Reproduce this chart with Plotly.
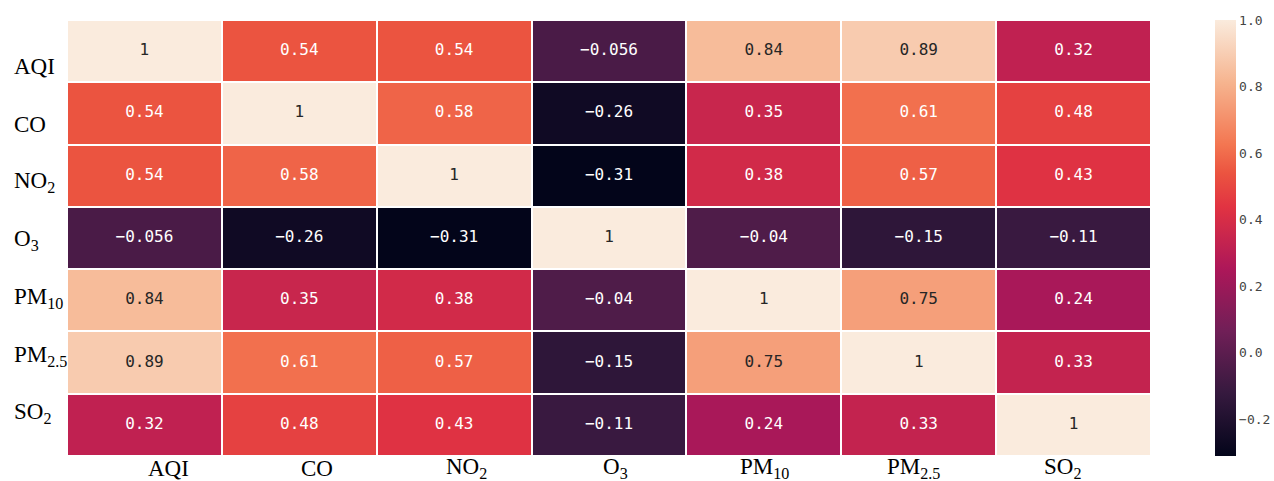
import numpy as np
import plotly.graph_objects as go

# Pollutant correlation matrix
labels = ["AQI", "CO", "NO<sub>2</sub>", "O<sub>3</sub>",
          "PM<sub>10</sub>", "PM<sub>2.5</sub>", "SO<sub>2</sub>"]
corr = [
    [1.0, 0.54, 0.54, -0.056, 0.84, 0.89, 0.32],
    [0.54, 1.0, 0.58, -0.26, 0.35, 0.61, 0.48],
    [0.54, 0.58, 1.0, -0.31, 0.38, 0.57, 0.43],
    [-0.056, -0.26, -0.31, 1.0, -0.04, -0.15, -0.11],
    [0.84, 0.35, 0.38, -0.04, 1.0, 0.75, 0.24],
    [0.89, 0.61, 0.57, -0.15, 0.75, 1.0, 0.33],
    [0.32, 0.48, 0.43, -0.11, 0.24, 0.33, 1.0],
]
cbar_vals = [-0.2, 0.0, 0.2, 0.4, 0.6, 0.8, 1.0]
cbar_text = ["\u22120.2", "0.0", "0.2", "0.4", "0.6", "0.8", "1.0"]

# "rocket"-style sequential palette
rocket = [
    [0.000, "#03051A"],
    [0.143, "#35193E"],
    [0.286, "#701F57"],
    [0.429, "#AD1759"],
    [0.571, "#E13342"],
    [0.649, "#EB5440"],
    [0.714, "#F37651"],
    [0.857, "#F6B48F"],
    [1.000, "#FAEBDD"],
]

z = np.array(corr)
n = len(labels)
zmin, zmax = float(z.min()), float(z.max())


def hex_rgb(h):
    h = h.lstrip("#")
    return np.array([int(h[i:i + 2], 16) for i in (0, 2, 4)], dtype=float) / 255.0


stops = np.array([s for s, _ in rocket])
cols = np.array([hex_rgb(c) for _, c in rocket])


def cell_rgb(v):
    t = (v - zmin) / (zmax - zmin)
    return np.array([np.interp(t, stops, cols[:, k]) for k in range(3)])


def luminance(rgb):
    lin = np.where(rgb <= 0.03928, rgb / 12.92, ((rgb + 0.055) / 1.055) ** 2.4)
    return float(lin.dot([0.2126, 0.7152, 0.0722]))


xs, ys, txt, tcol = [], [], [], []
for i in range(n):
    for j in range(n):
        v = corr[i][j]
        xs.append(j)
        ys.append(i)
        txt.append(format(v, ".2g").replace("-", "\u2212"))
        tcol.append("#262626" if luminance(cell_rgb(v)) > 0.408 else "#FFFFFF")

fig = go.Figure()
fig.add_trace(go.Heatmap(
    z=corr, x=list(range(n)), y=list(range(n)),
    colorscale=rocket, zmin=zmin, zmax=zmax,
    xgap=2, ygap=2, hoverinfo="skip",
    colorbar=dict(
        x=1.059, xanchor="left", xpad=0, ypad=0,
        y=0.5, yanchor="middle", len=1, lenmode="fraction",
        thickness=21, outlinewidth=0,
        tickvals=cbar_vals, ticktext=cbar_text, ticks="",
        tickfont=dict(family="DejaVu Sans Mono", size=13, color="#444444"),
    ),
))
fig.add_trace(go.Scatter(
    x=xs, y=ys, mode="text", text=txt,
    textfont=dict(family="DejaVu Sans Mono", size=16, color=tcol),
    hoverinfo="skip", showlegend=False,
))

# Axis labels (serif, with chemical subscripts)
L, R, T, B = 67, 123, 20, 25
W, H = 1274 - L - R, 481 - T - B
for i, lab in enumerate(labels):
    ypix = 67 + 57.7 * i
    fig.add_annotation(
        text=lab, xref="paper", yref="paper",
        x=(12 - L) / W, y=1 - (ypix - T) / H,
        xanchor="left", yanchor="middle", showarrow=False,
        font=dict(family="Liberation Serif", size=23, color="#000000"),
    )
    xpix = 168 + 149 * i
    fig.add_annotation(
        text=lab, xref="paper", yref="paper",
        x=(xpix - L) / W, y=1 - (468 - T) / H,
        xanchor="center", yanchor="middle", showarrow=False,
        font=dict(family="Liberation Serif", size=23, color="#000000"),
    )

fig.update_xaxes(range=[-0.5, n - 0.5], showticklabels=False, showgrid=False,
                 zeroline=False, showline=False, ticks="")
fig.update_yaxes(range=[n - 0.5, -0.5], showticklabels=False, showgrid=False,
                 zeroline=False, showline=False, ticks="")
fig.update_layout(
    width=1274, height=481,
    margin=dict(l=L, r=R, t=T, b=B, autoexpand=False),
    paper_bgcolor="white", plot_bgcolor="white",
    showlegend=False,
)
fig.write_html("out.html")
